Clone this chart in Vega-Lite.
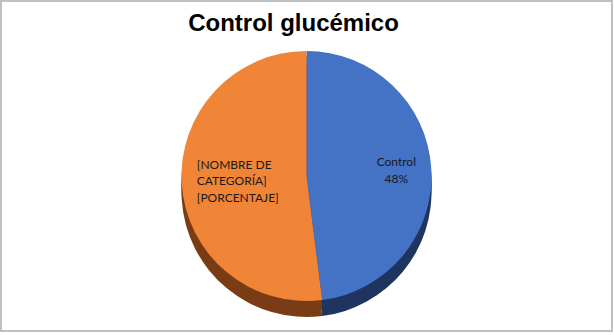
{
  "$schema": "https://vega.github.io/schema/vega-lite/v6.json",
  "autosize": {"type": "none"},
  "padding": {"left": 1, "top": 1, "right": 1, "bottom": 2},
  "width": 611,
  "height": 330,
  "background": "white",
  "title": {
    "text": "Control glucémico",
    "font": "Liberation Sans",
    "fontSize": 24,
    "fontWeight": "bold",
    "color": "#000000",
    "anchor": "middle",
    "baseline": "alphabetic",
    "offset": -32,
    "dy": 23,
    "dx": -13
  },
  "layer": [
    {
      "data": {"values": [{}]},
      "mark": {"type": "rect", "fill": null, "stroke": "#BFBFBF", "strokeWidth": 2},
      "encoding": {}
    },
    {
      "data": {
        "values": [
          {"categoria": "Control", "valor": 48, "etiqueta": ["Control", "48%"]},
          {"categoria": "[NOMBRE DE CATEGORÍA]", "valor": 52, "etiqueta": ["[NOMBRE DE", "CATEGORÍA]", "[PORCENTAJE]"]}
        ]
      },
      "encoding": {
        "theta": {"field": "valor", "type": "quantitative", "stack": true},
        "order": {"field": "categoria", "type": "nominal"}
      },
      "layer": [
        {
          "mark": {"type": "arc", "outerRadius": 125, "yOffset": 26},
          "encoding": {
            "color": {"field": "categoria", "type": "nominal", "legend": null,
              "scale": {"domain": ["Control", "[NOMBRE DE CATEGORÍA]"], "range": ["#1F3560", "#7A3C14"]}}
          }
        },
        {
          "mark": {"type": "arc", "outerRadius": 125, "yOffset": 20},
          "encoding": {
            "color": {"field": "categoria", "type": "nominal", "legend": null,
              "scale": {"domain": ["Control", "[NOMBRE DE CATEGORÍA]"], "range": ["#1F3560", "#7A3C14"]}}
          }
        },
        {
          "mark": {"type": "arc", "outerRadius": 125, "yOffset": 15},
          "encoding": {
            "color": {"field": "categoria", "type": "nominal", "legend": null,
              "scale": {"domain": ["Control", "[NOMBRE DE CATEGORÍA]"], "range": ["#1F3560", "#7A3C14"]}}
          }
        },
        {
          "mark": {"type": "arc", "outerRadius": 125, "yOffset": 10},
          "encoding": {
            "color": {"field": "categoria", "type": "nominal", "legend": null,
              "scale": {"domain": ["Control", "[NOMBRE DE CATEGORÍA]"], "range": ["#4472C4", "#F08537"]}}
          }
        },
        {
          "mark": {"type": "text", "radius": 90, "yOffset": 2, "font": "Lato", "fontSize": 12, "color": "#1A1A1A", "align": "center", "baseline": "middle", "lineHeight": 16.5},
          "encoding": {
            "text": {"condition": {"test": "datum.categoria === 'Control'", "field": "etiqueta"}, "value": ""}
          }
        },
        {
          "mark": {"type": "text", "radius": 110, "yOffset": -8, "font": "Lato", "fontSize": 12, "color": "#1A1A1A", "align": "left", "baseline": "middle", "lineHeight": 16.5},
          "encoding": {
            "text": {"condition": {"test": "datum.categoria !== 'Control'", "field": "etiqueta"}, "value": ""}
          }
        }
      ],
      "resolve": {"scale": {"color": "independent"}}
    }
  ],
  "config": {
    "view": {"stroke": null}
  }
}
